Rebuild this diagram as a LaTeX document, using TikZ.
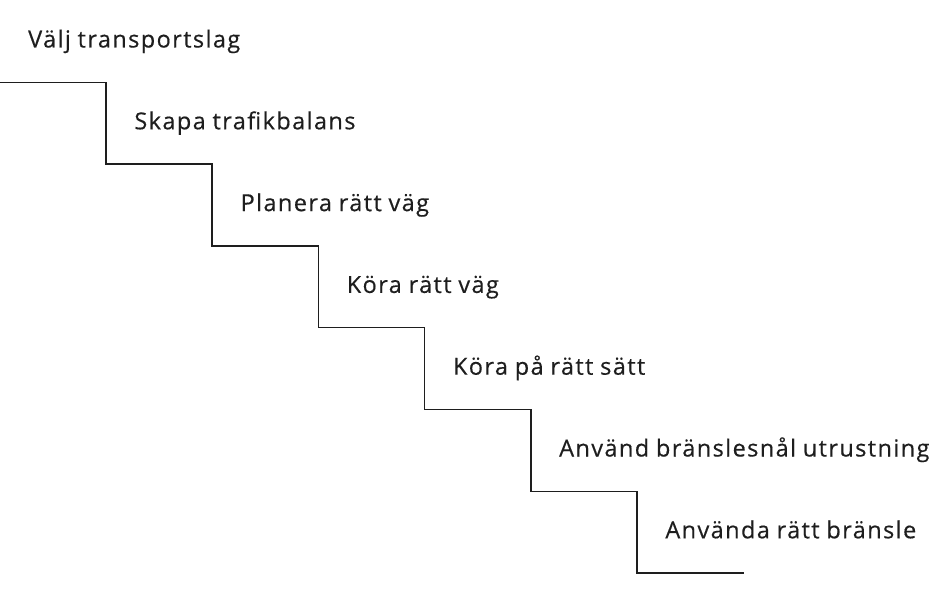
\documentclass[tikz,border=0pt]{standalone}
\usepackage{fontspec}
\setmainfont[LetterSpace=6,FakeBold=0.4,WordSpace=0.9]{Open Sans}
\definecolor{ink}{HTML}{1E1E1E}
\begin{document}
\begin{tikzpicture}[x=1pt,y=-1pt,
  lbl/.style={anchor=base west,inner sep=0pt,font=\fontsize{23.5}{28}\selectfont,text=ink},
  stair/.style={draw=ink,line width=1.5pt,line join=miter}]
\useasboundingbox (0,0) rectangle (940,599);
\def\dx{106.2}\def\dy{81.8}
\node[lbl] (t0) at (28,47.5) {Välj transportslag};
\node[lbl] (t1) at (28+\dx,47.5+\dy) {Skapa trafikbalans};
\node[lbl] (t2) at (28+2*\dx,47.5+2*\dy) {Planera rätt väg};
\node[lbl] (t3) at (28+3*\dx,47.5+3*\dy) {Köra rätt väg};
\node[lbl] (t4) at (28+4*\dx,47.5+4*\dy) {Köra på rätt sätt};
\node[lbl] (t5) at (28+5*\dx,47.5+5*\dy) {Använd bränslesnål utrustning};
\node[lbl] (t6) at (28+6*\dx,47.5+6*\dy) {Använda rätt bränsle};
\draw[stair] (-1,82.3) -- (106,82.3)
  -- (106,82.3+\dy) -- (106+\dx,82.3+\dy)
  -- (106+\dx,82.3+2*\dy) -- (106+2*\dx,82.3+2*\dy)
  -- (106+2*\dx,82.3+3*\dy) -- (106+3*\dx,82.3+3*\dy)
  -- (106+3*\dx,82.3+4*\dy) -- (106+4*\dx,82.3+4*\dy)
  -- (106+4*\dx,82.3+5*\dy) -- (106+5*\dx,82.3+5*\dy)
  -- (106+5*\dx,82.3+6*\dy) -- (743.5,82.3+6*\dy);
\end{tikzpicture}
\end{document}
